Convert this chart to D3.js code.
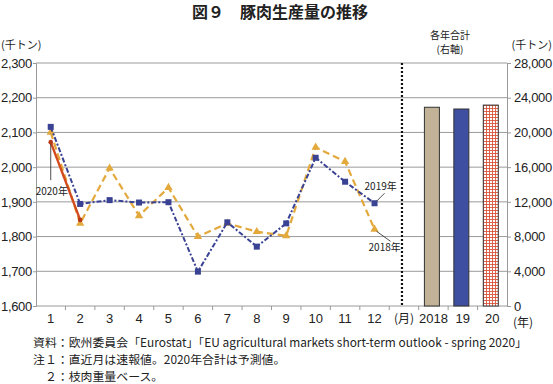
<!DOCTYPE html>
<html><head><meta charset="utf-8">
<script src="https://cdn.jsdelivr.net/npm/d3@7"></script>
<style>
body{margin:0;background:#fff;}
svg{display:block;font-family:"Liberation Sans","Noto Sans CJK JP",sans-serif;}
.jp{font-family:"Noto Sans CJK JP",sans-serif;}
</style></head>
<body><svg id="c" width="553" height="384"></svg>
<script>
const categories = ["1","2","3","4","5","6","7","8","9","10","11","12","(月)","2018","19","20"];
const months = ["1","2","3","4","5","6","7","8","9","10","11","12"];
const s2018 = [2100,1838,1997,1860,1941,1800,1838,1814,1802,2057,2016,1821];
const s2019 = [2116,1894,1905,1898,1899,1699,1841,1771,1838,2027,1958,1896];
const s2020 = [2072,1848];
const years = ["2018","19","20"];
const yearTotals = [22900,22700,23150];
const leftTicks = [1600,1700,1800,1900,2000,2100,2200,2300];
const rightTicks = [0,4000,8000,12000,16000,20000,24000,28000];

const svg = d3.select("#c");
const L=36,R=507,T=63,B=306;
const x = d3.scaleBand().domain(categories).range([L,R]).paddingInner(0).paddingOuter(0);
const yL = d3.scaleLinear().domain([1600,2300]).range([B,T]);
const yR = d3.scaleLinear().domain([0,28000]).range([B,T]);
const cx = d => x(d)+x.bandwidth()/2;

// defs pattern
const defs = svg.append("defs");
const pat = defs.append("pattern").attr("id","chk").attr("patternUnits","userSpaceOnUse").attr("width",3).attr("height",3);
pat.append("rect").attr("width",3).attr("height",3).attr("fill","#fff");
pat.append("path").attr("d","M0,0.5H3M0.5,0V3").attr("stroke","#d9553a").attr("stroke-width",0.9);

// title
svg.append("text").attr("class","jp").attr("x",280).attr("y",18).attr("text-anchor","middle")
  .attr("font-size",16).attr("font-weight","bold").attr("fill","#222").text("図９　豚肉生産量の推移");

// gridlines
svg.append("g").selectAll("line").data(leftTicks).join("line")
  .attr("x1",L).attr("x2",R).attr("y1",d=>yL(d)).attr("y2",d=>yL(d))
  .attr("stroke","#9a9a9a").attr("stroke-width",1);

// left axis
const gL = svg.append("g").attr("transform",`translate(${L},0)`)
  .call(d3.axisLeft(yL).tickValues(leftTicks).tickSize(3).tickPadding(1).tickFormat(d3.format(",")));
gL.select(".domain").attr("stroke","#9a9a9a");
gL.selectAll(".tick line").attr("stroke","#9a9a9a");
gL.selectAll("text").attr("font-size",13).attr("fill","#222").attr("font-family","Liberation Sans").attr("letter-spacing",-0.3);

// right axis
const gR = svg.append("g").attr("transform",`translate(${R},0)`)
  .call(d3.axisRight(yR).tickValues(rightTicks).tickSize(4).tickPadding(3).tickFormat(d3.format(",")));
gR.select(".domain").attr("stroke","#9a9a9a");
gR.selectAll(".tick line").attr("stroke","#9a9a9a");
gR.selectAll("text").attr("font-size",13).attr("fill","#222").attr("font-family","Liberation Sans").attr("letter-spacing",-0.3);

// bottom axis
const gB = svg.append("g").attr("transform",`translate(0,${B})`)
  .call(d3.axisBottom(x).tickSize(0).tickPadding(8));
gB.select(".domain").remove();
gB.selectAll("text").attr("font-size",13).attr("fill","#222").attr("font-family","Liberation Sans");
gB.selectAll("text").filter(d=>d==="(月)").attr("font-family","Noto Sans CJK JP").attr("font-size",12);
// boundary ticks
svg.append("g").selectAll("line").data(categories.slice(1)).join("line")
  .attr("x1",d=>x(d)).attr("x2",d=>x(d)).attr("y1",B).attr("y2",B+4)
  .attr("stroke","#9a9a9a");

// dotted separator
svg.append("line").attr("x1",cx("(月)")-2).attr("x2",cx("(月)")-2).attr("y1",T).attr("y2",B)
  .attr("stroke","#111").attr("stroke-width",2.2).attr("stroke-dasharray","2,2");

// bars
const barFills = ["#c2b297","#3e4ea0","url(#chk)"];
svg.append("g").selectAll("rect").data(years).join("rect")
  .attr("x",d=>cx(d)-7.5-1.5).attr("width",15)
  .attr("y",(d,i)=>yR(yearTotals[i])).attr("height",(d,i)=>B-yR(yearTotals[i]))
  .attr("fill",(d,i)=>barFills[i]).attr("stroke","#333").attr("stroke-width",1);

// lines
const line = d3.line().x((d,i)=>cx(months[i])).y(d=>yL(d));
svg.append("path").datum(s2018).attr("d",line).attr("fill","none")
  .attr("stroke","#e3a93c").attr("stroke-width",2.2).attr("stroke-dasharray","7,4");
svg.append("g").selectAll("path").data(s2018).join("path")
  .attr("d",d3.symbol(d3.symbolTriangle,30)()).attr("transform",(d,i)=>`translate(${cx(months[i])},${yL(d)})`)
  .attr("fill","#e3a93c");
svg.append("path").datum(s2019).attr("d",line).attr("fill","none")
  .attr("stroke","#3a4294").attr("stroke-width",2).attr("stroke-dasharray","5,2,2,2");
svg.append("g").selectAll("rect").data(s2019).join("rect")
  .attr("x",(d,i)=>cx(months[i])-3).attr("y",d=>yL(d)-3).attr("width",6).attr("height",6)
  .attr("fill","#3a4294");
svg.append("path").datum(s2020).attr("d",line).attr("fill","none")
  .attr("stroke","#d44a1f").attr("stroke-width",2.4);
svg.append("g").selectAll("circle").data(s2020).join("circle")
  .attr("cx",(d,i)=>cx(months[i])).attr("cy",d=>yL(d)).attr("r",2.3).attr("fill","#b8381a");

// annotations
const ann = svg.append("g").attr("font-size",10).attr("fill","#222");
const p20 = [cx("1"), yL(s2020[0])];
ann.append("line").attr("x1",p20[0]).attr("y1",p20[1]+2).attr("x2",p20[0]).attr("y2",p20[1]+38).attr("stroke","#222").attr("stroke-width",0.8);
ann.append("text").attr("class","jp").attr("x",p20[0]-15).attr("y",p20[1]+53).text("2020年");
const p19 = [cx("12"), yL(s2019[11])];
ann.append("line").attr("x1",p19[0]+2).attr("y1",p19[1]-2).attr("x2",p19[0]+10).attr("y2",p19[1]-10).attr("stroke","#222").attr("stroke-width",0.8);
ann.append("text").attr("class","jp").attr("x",p19[0]-10).attr("y",p19[1]-13).text("2019年");
const p18 = [cx("12"), yL(s2018[11])];
ann.append("line").attr("x1",p18[0]+2).attr("y1",p18[1]+2).attr("x2",p18[0]+16).attr("y2",p18[1]+12).attr("stroke","#222").attr("stroke-width",0.8);
ann.append("text").attr("class","jp").attr("x",p18[0]-6).attr("y",p18[1]+22).text("2018年");

// unit labels
const u = svg.append("g").attr("class","jp").attr("font-size",11).attr("fill","#222");
u.append("text").attr("x",1).attr("y",49).text("(千トン)");
u.append("text").attr("x",552).attr("y",49).attr("text-anchor","end").text("(千トン)");
u.append("text").attr("x",450).attr("y",39).attr("text-anchor","middle").attr("font-size",10).text("各年合計");
u.append("text").attr("x",450).attr("y",53).attr("text-anchor","middle").attr("font-size",10).text("(右軸)");
u.append("text").attr("x",513).attr("y",327).attr("font-size",12).text("(年)");

// notes
const n = svg.append("g").attr("class","jp").attr("font-size",11.9).attr("fill","#222");
n.append("text").attr("x",33).attr("y",347).text("資料：欧州委員会「Eurostat」「EU agricultural markets short-term outlook - spring 2020」");
n.append("text").attr("x",33).attr("y",364).text("注１：直近月は速報値。2020年合計は予測値。");
n.append("text").attr("x",33).attr("y",381).text("　２：枝肉重量ベース。");
</script></body></html>
